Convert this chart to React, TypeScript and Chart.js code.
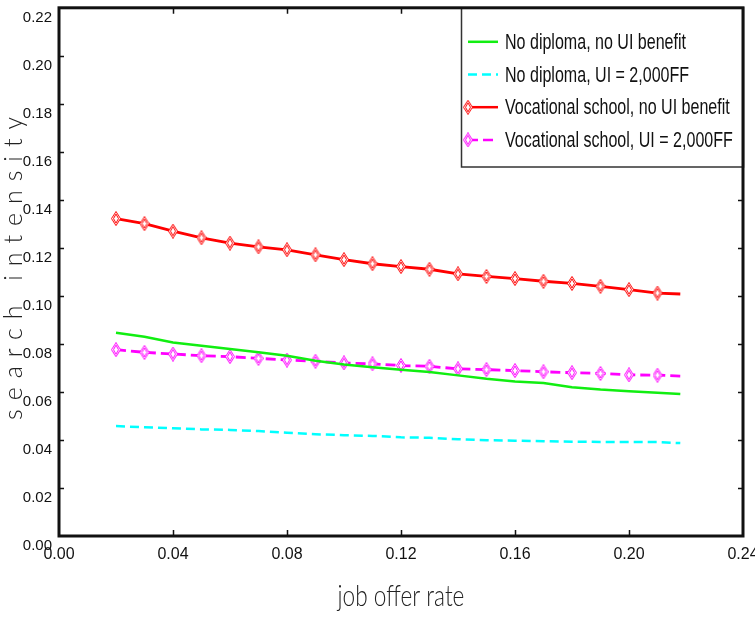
import React, { useEffect, useRef } from 'react';
import { Chart, registerables } from 'chart.js';

Chart.register(...registerables);

// ---- data ----
const jobOfferRate = [0.02, 0.03, 0.04, 0.05, 0.06, 0.07, 0.08, 0.09, 0.10, 0.11, 0.12, 0.13, 0.14, 0.15, 0.16, 0.17, 0.18, 0.19, 0.20, 0.21, 0.218];
const noDiplomaNoUI = [0.0847, 0.0830, 0.0806, 0.0792, 0.0779, 0.0765, 0.0751, 0.0730, 0.0714, 0.0703, 0.0692, 0.0683, 0.0669, 0.0655, 0.0644, 0.0637, 0.0620, 0.0610, 0.0603, 0.0597, 0.0591];
const noDiplomaUI = [0.0458, 0.0453, 0.0449, 0.0444, 0.0442, 0.0437, 0.0430, 0.0424, 0.0420, 0.0417, 0.0411, 0.0409, 0.0403, 0.0399, 0.0397, 0.0395, 0.0393, 0.0392, 0.0392, 0.0391, 0.0387];
const vocationalNoUI = [0.1322, 0.1301, 0.1270, 0.1242, 0.1220, 0.1204, 0.1192, 0.1171, 0.1151, 0.1134, 0.1122, 0.1111, 0.1092, 0.1081, 0.1072, 0.1061, 0.1052, 0.1040, 0.1026, 0.1012, 0.1008];
const vocationalUI = [0.0776, 0.0765, 0.0758, 0.0751, 0.0747, 0.0740, 0.0733, 0.0728, 0.0721, 0.0717, 0.0710, 0.0707, 0.0696, 0.0693, 0.0689, 0.0684, 0.0680, 0.0677, 0.0671, 0.0670, 0.0666];
const seriesLabels = [
  'No diploma, no UI benefit',
  'No diploma, UI = 2,000FF',
  'Vocational school, no UI benefit',
  'Vocational school, UI = 2,000FF',
];
const xTitle = 'job offer rate';
const yTitle = 'search intensity';

const TICK_FONT = "'Liberation Sans', Arial, sans-serif";

function makeDiamond(color: string): HTMLCanvasElement {
  const c = document.createElement('canvas');
  c.width = 10;
  c.height = 15;
  const g = c.getContext('2d')!;
  g.fillStyle = '#ffffff';
  g.strokeStyle = color;
  g.lineWidth = 1;
  g.beginPath();
  g.moveTo(5, 0.5); g.lineTo(9.5, 7.5); g.lineTo(5, 14.5); g.lineTo(0.5, 7.5); g.closePath();
  g.fill();
  g.stroke();
  g.beginPath();
  g.moveTo(5, 3); g.lineTo(7.5, 7.5); g.lineTo(5, 12); g.lineTo(2.5, 7.5); g.closePath();
  g.stroke();
  return c;
}

const frame = {
  id: 'frameAndLegend',
  afterDraw(chart: any) {
    const ctx = chart.ctx as CanvasRenderingContext2D;
    const { left, right, top, bottom } = chart.chartArea;
    const xs = chart.scales.x;
    const ys = chart.scales.y;

    // inward tick marks on all four sides
    ctx.save();
    ctx.strokeStyle = '#111';
    ctx.lineWidth = 1.5;
    ctx.beginPath();
    xs.ticks.forEach((t: any) => {
      const px = Math.round(xs.getPixelForValue(t.value)) + 0.5;
      if (px <= left + 2 || px >= right - 2) return;
      ctx.moveTo(px, bottom); ctx.lineTo(px, bottom - 6);
      ctx.moveTo(px, top); ctx.lineTo(px, top + 6);
    });
    ys.ticks.forEach((t: any) => {
      const py = Math.round(ys.getPixelForValue(t.value)) + 0.5;
      if (py <= top + 2 || py >= bottom - 2) return;
      ctx.moveTo(left, py); ctx.lineTo(left + 5, py);
      ctx.moveTo(right, py); ctx.lineTo(right - 5, py);
    });
    ctx.stroke();
    ctx.restore();

    // legend box
    const bx = 461, by = top, bw = right - 461, bh = 167 - top;
    ctx.save();
    ctx.fillStyle = '#ffffff';
    ctx.fillRect(bx, by, bw, bh);
    ctx.strokeStyle = '#333';
    ctx.lineWidth = 1.5;
    ctx.strokeRect(bx + 0.5, by, bw, bh);
    ctx.font = `22px ${TICK_FONT}`;
    const sx = 181 / ctx.measureText(chart.data.datasets[0].label).width;
    chart.data.datasets.forEach((ds: any, i: number) => {
      const y = by + 34 + i * 32.7;
      ctx.save();
      ctx.strokeStyle = ds.borderColor;
      ctx.lineWidth = 2.5;
      ctx.setLineDash(ds.borderDash || []);
      ctx.beginPath();
      ctx.moveTo(468, y);
      ctx.lineTo(498, y);
      ctx.stroke();
      ctx.restore();
      if (ds.pointStyle && typeof ds.pointStyle === 'object') {
        const img = ds.pointStyle as HTMLCanvasElement;
        ctx.drawImage(img, 468 - img.width / 2, y - img.height / 2);
      }
      ctx.save();
      ctx.fillStyle = '#111';
      ctx.font = `22px ${TICK_FONT}`;
      ctx.textBaseline = 'middle';
      ctx.translate(505, y + 1);
      ctx.scale(sx, 1);
      ctx.fillText(ds.label, 0, 0);
      ctx.restore();
    });
    ctx.restore();

    // thick frame
    ctx.save();
    ctx.strokeStyle = '#111';
    ctx.lineWidth = 3;
    ctx.strokeRect(left, top, right - left, bottom - top);
    ctx.restore();

    // axis titles
    ctx.save();
    ctx.fillStyle = '#222';
    ctx.font = `300 29px Lato, 'DejaVu Sans', sans-serif`;
    ctx.textAlign = 'center';
    ctx.textBaseline = 'alphabetic';
    ctx.translate((left + right) / 2, 606);
    ctx.scale(0.78, 1);
    ctx.fillText(xTitle, 0, 0);
    ctx.restore();

    ctx.save();
    ctx.fillStyle = '#222';
    ctx.font = `300 25px Lato, 'DejaVu Sans', sans-serif`;
    (ctx as any).letterSpacing = '9px';
    ctx.textAlign = 'center';
    ctx.textBaseline = 'middle';
    ctx.translate(14, 268);
    ctx.rotate(-Math.PI / 2);
    ctx.fillText(yTitle, 4, 0);
    ctx.restore();
  },
};

export default function App() {
  const ref = useRef<HTMLCanvasElement | null>(null);

  useEffect(() => {
    if (!ref.current) return;
    const redDiamond = makeDiamond('#ff0000');
    const magentaDiamond = makeDiamond('#ff00ff');
    const toPts = (ys: number[]) => jobOfferRate.map((x, i) => ({ x, y: ys[i] }));
    const markerRadius = jobOfferRate.map((_, i) => (i === jobOfferRate.length - 1 ? 0 : 5));

    const chart = new Chart(ref.current, {
      type: 'line',
      data: {
        datasets: [
          {
            label: seriesLabels[0],
            data: toPts(noDiplomaNoUI),
            borderColor: '#11ee11',
            borderWidth: 2.5,
            pointRadius: 0,
            tension: 0,
          },
          {
            label: seriesLabels[1],
            data: toPts(noDiplomaUI),
            borderColor: '#00ffff',
            borderWidth: 2.5,
            borderDash: [9, 5],
            pointRadius: 0,
            tension: 0,
          },
          {
            label: seriesLabels[2],
            data: toPts(vocationalNoUI),
            borderColor: '#ff0000',
            borderWidth: 2.8,
            pointStyle: redDiamond as any,
            pointRadius: markerRadius,
            tension: 0,
          },
          {
            label: seriesLabels[3],
            data: toPts(vocationalUI),
            borderColor: '#ff00ff',
            borderWidth: 2.8,
            borderDash: [10, 5],
            pointStyle: magentaDiamond as any,
            pointRadius: markerRadius,
            tension: 0,
          },
        ],
      },
      options: {
        animation: false,
        responsive: true,
        maintainAspectRatio: false,
        layout: { padding: { left: 0, top: 4, right: 12, bottom: 0 } },
        plugins: { legend: { display: false }, tooltip: { enabled: false } },
        scales: {
          x: {
            type: 'linear',
            min: 0,
            max: 0.24,
            grid: { display: false, drawTicks: false },
            border: { display: false },
            ticks: {
              stepSize: 0.04,
              autoSkip: false,
              maxRotation: 0,
              padding: 9,
              color: '#111',
              font: { family: TICK_FONT, size: 16 },
              callback: (v: any) => Number(v).toFixed(2),
            },
            afterFit: (s: any) => { s.height = 81; s.paddingLeft = 0; s.paddingRight = 0; },
          },
          y: {
            type: 'linear',
            min: 0,
            max: 0.22,
            grid: { display: false, drawTicks: false },
            border: { display: false },
            ticks: {
              stepSize: 0.02,
              autoSkip: false,
              padding: 7,
              labelOffset: 10,
              color: '#111',
              font: { family: TICK_FONT, size: 15 },
              callback: (v: any) => Number(v).toFixed(2),
            },
            afterFit: (s: any) => { s.width = 59; s.paddingTop = 0; s.paddingBottom = 0; },
          },
        },
      },
      plugins: [frame],
    });
    return () => chart.destroy();
  }, []);

  return (
    <div style={{ position: 'absolute', left: 0, top: 0, width: 755, height: 617, background: '#fff' }}>
      <canvas ref={ref} />
    </div>
  );
}
